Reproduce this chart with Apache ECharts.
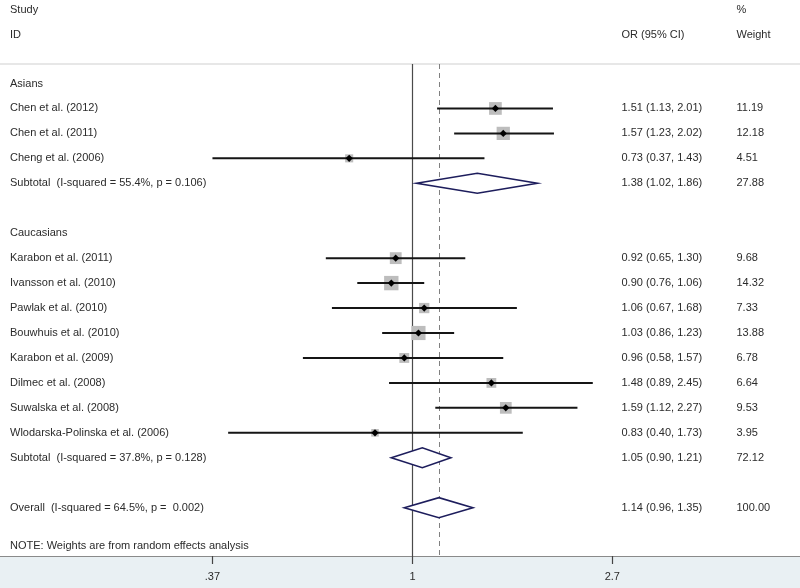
<!DOCTYPE html>
<html>
<head>
<meta charset="utf-8">
<script src="https://cdn.jsdelivr.net/npm/echarts@6/dist/echarts.min.js"></script>
<style>html,body{margin:0;padding:0;background:#fff}#chart{width:800px;height:588px}</style>
</head>
<body>
<div id="chart"></div>
<script>
// ---- data ----
const groupNames = ['Asians', 'Caucasians'];
const studyNames = ['Chen et al. (2012)', 'Chen et al. (2011)', 'Cheng et al. (2006)',
  'Karabon et al. (2011)', 'Ivansson et al. (2010)', 'Pawlak et al. (2010)', 'Bouwhuis et al. (2010)',
  'Karabon et al. (2009)', 'Dilmec et al. (2008)', 'Suwalska et al. (2008)', 'Wlodarska-Polinska et al. (2006)'];
const studyGroup = [0, 0, 0, 1, 1, 1, 1, 1, 1, 1, 1];
const studyOR = [1.51, 1.57, 0.73, 0.92, 0.90, 1.06, 1.03, 0.96, 1.48, 1.59, 0.83];
const studyLo = [1.13, 1.23, 0.37, 0.65, 0.76, 0.67, 0.86, 0.58, 0.89, 1.12, 0.40];
const studyHi = [2.01, 2.02, 1.43, 1.30, 1.06, 1.68, 1.23, 1.57, 2.45, 2.27, 1.73];
const studyWeight = [11.19, 12.18, 4.51, 9.68, 14.32, 7.33, 13.88, 6.78, 6.64, 9.53, 3.95];
const summaryNames = ['Subtotal  (I-squared = 55.4%, p = 0.106)', 'Subtotal  (I-squared = 37.8%, p = 0.128)', 'Overall  (I-squared = 64.5%, p =  0.002)'];
const summaryOR = [1.38, 1.05, 1.14];
const summaryLo = [1.02, 0.90, 0.96];
const summaryHi = [1.86, 1.21, 1.35];
const summaryWeight = [27.88, 72.12, 100.00];
const overallOR = 1.14;
const tickValues = [0.37, 1, 2.7];
const tickLabels = ['.37', '1', '2.7'];
const noteText = 'NOTE: Weights are from random effects analysis';

// ---- build rows ----
const textRows = [];   // {row, label, or, w}
const studyData = [];  // [or, lo, hi, w, row]
const summaryData = []; // [or, lo, hi, row]
let row = 0;
const fmt = (o, l, h) => o.toFixed(2) + ' (' + l.toFixed(2) + ', ' + h.toFixed(2) + ')';
groupNames.forEach((g, gi) => {
  textRows.push({row: row, label: g, or: '', w: ''});
  row++;
  studyNames.forEach((n, i) => {
    if (studyGroup[i] !== gi) return;
    textRows.push({row: row, label: n, or: fmt(studyOR[i], studyLo[i], studyHi[i]), w: studyWeight[i].toFixed(2)});
    studyData.push([studyOR[i], studyLo[i], studyHi[i], studyWeight[i], row]);
    row++;
  });
  textRows.push({row: row, label: summaryNames[gi], or: fmt(summaryOR[gi], summaryLo[gi], summaryHi[gi]), w: summaryWeight[gi].toFixed(2)});
  summaryData.push([summaryOR[gi], summaryLo[gi], summaryHi[gi], row]);
  row += 2;
});
textRows.push({row: row, label: summaryNames[2], or: fmt(summaryOR[2], summaryLo[2], summaryHi[2]), w: summaryWeight[2].toFixed(2)});
summaryData.push([summaryOR[2], summaryLo[2], summaryHi[2], row]);

const FONT = '11px "Liberation Sans", Arial, sans-serif';
const TXT = '#2b2b2b';
const rowPx = 24.95, gridTop = 64, gridBottom = 32, firstRowPx = 83.5;
const yMin = -(firstRowPx - gridTop) / rowPx;
const yMax = yMin + (588 - gridTop - gridBottom) / rowPx;
const pxPerLn = 201.2, oneX = 412.5;
const xMin = Math.exp((0 - oneX) / pxPerLn), xMax = Math.exp((800 - oneX) / pxPerLn);

const chart = echarts.init(document.getElementById('chart'), null, {renderer: 'canvas'});
chart.setOption({
  animation: false,
  backgroundColor: '#fff',
  grid: {left: 0, right: 0, top: gridTop, bottom: gridBottom, containLabel: false},
  xAxis: {
    type: 'log', logBase: Math.E, min: xMin, max: xMax, position: 'bottom',
    axisLine: {show: true, onZero: false, lineStyle: {color: '#8a8a8a', width: 1}},
    axisTick: {show: true, length: 8, customValues: tickValues, lineStyle: {color: '#444', width: 1.2}},
    axisLabel: {show: true, customValues: tickValues, margin: 15, color: TXT, fontSize: 11, fontFamily: '"Liberation Sans", Arial, sans-serif',
      formatter: function (v) { let best = 0; tickValues.forEach((t, i) => { if (Math.abs(Math.log(t) - Math.log(v)) < Math.abs(Math.log(tickValues[best]) - Math.log(v))) best = i; }); return tickLabels[best]; }},
    splitLine: {show: false}, minorTick: {show: false}, minorSplitLine: {show: false}
  },
  yAxis: {type: 'value', inverse: true, min: yMin, max: yMax, show: false, splitLine: {show: false}},
  graphic: [
    {type: 'rect', shape: {x: 0, y: 556, width: 800, height: 32}, style: {fill: '#e9f0f3'}, z: -10, silent: true},
    {type: 'line', shape: {x1: 0, y1: 64, x2: 800, y2: 64}, style: {stroke: '#cfcfcf', lineWidth: 1.2}, silent: true},
    {type: 'text', x: 10, y: 10, style: {text: 'Study', font: FONT, fill: TXT, verticalAlign: 'middle'}},
    {type: 'text', x: 10, y: 34.5, style: {text: 'ID', font: FONT, fill: TXT, verticalAlign: 'middle'}},
    {type: 'text', x: 621.5, y: 34.5, style: {text: 'OR (95% CI)', font: FONT, fill: TXT, verticalAlign: 'middle'}},
    {type: 'text', x: 736.5, y: 10, style: {text: '%', font: FONT, fill: TXT, verticalAlign: 'middle'}},
    {type: 'text', x: 736.5, y: 34.5, style: {text: 'Weight', font: FONT, fill: TXT, verticalAlign: 'middle'}},
    {type: 'text', x: 10, y: 546, style: {text: noteText, font: FONT, fill: TXT, verticalAlign: 'middle'}}
  ],
  series: [
    {
      type: 'custom', name: 'studies', clip: false, data: studyData, z: 3,
      renderItem: function (params, api) {
        const r = api.value(4);
        const c = api.coord([api.value(0), r]);
        const l = api.coord([api.value(1), r]);
        const h = api.coord([api.value(2), r]);
        const s = 3.8 * Math.sqrt(api.value(3));
        const d = 3.6;
        return {type: 'group', children: [
          {type: 'rect', shape: {x: c[0] - s / 2, y: c[1] - s / 2, width: s, height: s}, style: {fill: '#bdbdbd'}},
          {type: 'line', shape: {x1: l[0], y1: l[1], x2: h[0], y2: h[1]}, style: {stroke: '#151515', lineWidth: 2}},
          {type: 'polygon', shape: {points: [[c[0] - d, c[1]], [c[0], c[1] - d], [c[0] + d, c[1]], [c[0], c[1] + d]]}, style: {fill: '#000'}}
        ]};
      },
      markLine: {
        silent: true, symbol: 'none', label: {show: false}, z: 1,
        data: [
          {xAxis: 1, lineStyle: {color: '#4a4a4a', type: 'solid', width: 1.2}},
          {xAxis: overallOR, lineStyle: {color: '#808080', type: [5, 4], width: 1}}
        ]
      }
    },
    {
      type: 'custom', name: 'summary', clip: false, data: summaryData, z: 4,
      renderItem: function (params, api) {
        const r = api.value(3);
        const c = api.coord([api.value(0), r]);
        const l = api.coord([api.value(1), r]);
        const h = api.coord([api.value(2), r]);
        const hh = 10;
        return {type: 'polygon', shape: {points: [[l[0], l[1]], [c[0], c[1] - hh], [h[0], h[1]], [c[0], c[1] + hh]]},
          style: {fill: '#fff', stroke: '#1d1d5c', lineWidth: 1.6}};
      }
    },
    {
      type: 'custom', name: 'table', clip: false, data: textRows.map(t => [1, t.row]), z: 5,
      renderItem: function (params, api) {
        const t = textRows[params.dataIndex];
        const y = api.coord([1, api.value(1)])[1];
        return {type: 'group', children: [
          {type: 'text', x: 10, y: y, style: {text: t.label, font: FONT, fill: TXT, verticalAlign: 'middle'}},
          {type: 'text', x: 621.5, y: y, style: {text: t.or, font: FONT, fill: TXT, verticalAlign: 'middle'}},
          {type: 'text', x: 736.5, y: y, style: {text: t.w, font: FONT, fill: TXT, verticalAlign: 'middle'}}
        ]};
      }
    }
  ]
});
</script>
</body>
</html>
